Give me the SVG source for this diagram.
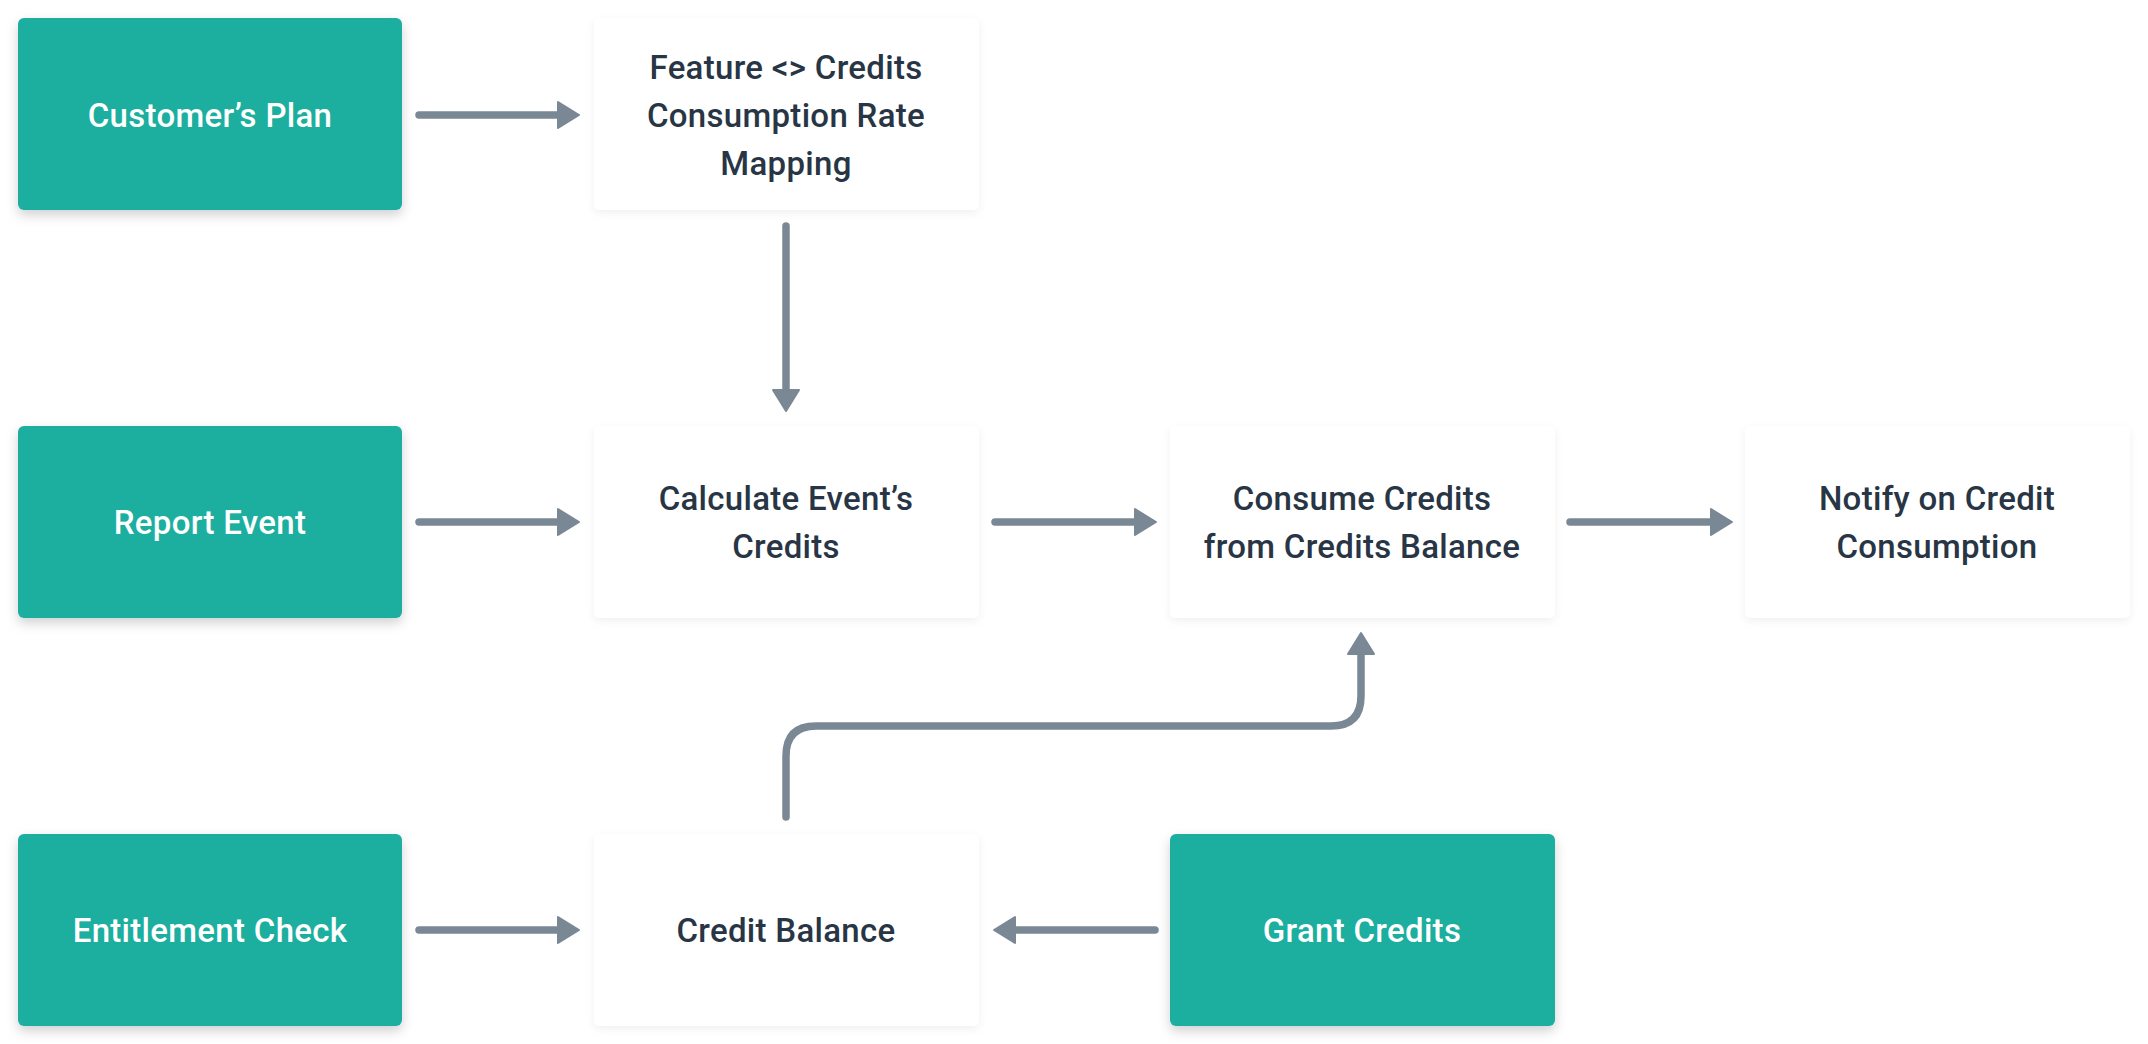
<svg xmlns="http://www.w3.org/2000/svg" width="2148" height="1044" viewBox="0 0 2148 1044">
<defs>
<style>
.g{fill:#1bae9e}
.w{fill:#ffffff}
text{font-family:Roboto,"Liberation Sans",sans-serif;font-size:33px;font-weight:500;letter-spacing:0.3px;text-anchor:middle;dominant-baseline:central}
.tw{fill:#ffffff}
.td{fill:#283545}
.c{fill:none;stroke:#7a8896;stroke-width:7.5;stroke-linecap:round;stroke-linejoin:round}
</style>
<filter id="sg" x="-10%" y="-10%" width="120%" height="130%">
<feDropShadow dx="0" dy="5" stdDeviation="6" flood-color="#000" flood-opacity="0.18"/>
</filter>
<filter id="sw" x="-10%" y="-10%" width="120%" height="130%">
<feDropShadow dx="0" dy="3" stdDeviation="4" flood-color="#000" flood-opacity="0.06"/>
</filter>
<marker id="ah" markerUnits="userSpaceOnUse" markerWidth="26" markerHeight="30" viewBox="0 0 26 30" refX="6" refY="15" orient="auto">
<path d="M1,2 L22,15 L1,28 Z" fill="#7a8896" stroke="#7a8896" stroke-width="2" stroke-linejoin="round"/>
</marker>
</defs>
<rect width="2148" height="1044" fill="#ffffff"/>
<g id="connectors">
<path class="c" d="M419,115 H563" marker-end="url(#ah)"/>
<path class="c" d="M786,226 V395" marker-end="url(#ah)"/>
<path class="c" d="M419,522 H563" marker-end="url(#ah)"/>
<path class="c" d="M995,522 H1140" marker-end="url(#ah)"/>
<path class="c" d="M1570,522 H1716" marker-end="url(#ah)"/>
<path class="c" d="M419,930 H563" marker-end="url(#ah)"/>
<path class="c" d="M1155,930 H1010" marker-end="url(#ah)"/>
<path class="c" d="M786,817 V756 Q786,726 816,726 H1331 Q1361,726 1361,696 V649" marker-end="url(#ah)"/>
</g>
<g id="customers-plan">
<rect class="g" x="18" y="18" width="384" height="192" rx="6" filter="url(#sg)"/>
<text class="tw" x="210" y="115">Customer’s Plan</text>
</g>
<g id="feature-mapping">
<rect class="w" x="594" y="18" width="385" height="192" rx="6" filter="url(#sw)"/>
<text class="td" x="786" y="67">Feature &lt;&gt; Credits</text>
<text class="td" x="786" y="115">Consumption Rate</text>
<text class="td" x="786" y="163">Mapping</text>
</g>
<g id="report-event">
<rect class="g" x="18" y="426" width="384" height="192" rx="6" filter="url(#sg)"/>
<text class="tw" x="210" y="522">Report Event</text>
</g>
<g id="calculate-credits">
<rect class="w" x="594" y="426" width="385" height="192" rx="6" filter="url(#sw)"/>
<text class="td" x="786" y="498">Calculate Event’s</text>
<text class="td" x="786" y="546">Credits</text>
</g>
<g id="consume-credits">
<rect class="w" x="1170" y="426" width="385" height="192" rx="6" filter="url(#sw)"/>
<text class="td" x="1362" y="498">Consume Credits</text>
<text class="td" x="1362" y="546">from Credits Balance</text>
</g>
<g id="notify">
<rect class="w" x="1745" y="426" width="385" height="192" rx="6" filter="url(#sw)"/>
<text class="td" x="1937" y="498">Notify on Credit</text>
<text class="td" x="1937" y="546">Consumption</text>
</g>
<g id="entitlement-check">
<rect class="g" x="18" y="834" width="384" height="192" rx="6" filter="url(#sg)"/>
<text class="tw" x="210" y="930">Entitlement Check</text>
</g>
<g id="credit-balance">
<rect class="w" x="594" y="834" width="385" height="192" rx="6" filter="url(#sw)"/>
<text class="td" x="786" y="930">Credit Balance</text>
</g>
<g id="grant-credits">
<rect class="g" x="1170" y="834" width="385" height="192" rx="6" filter="url(#sg)"/>
<text class="tw" x="1362" y="930">Grant Credits</text>
</g>
</svg>
